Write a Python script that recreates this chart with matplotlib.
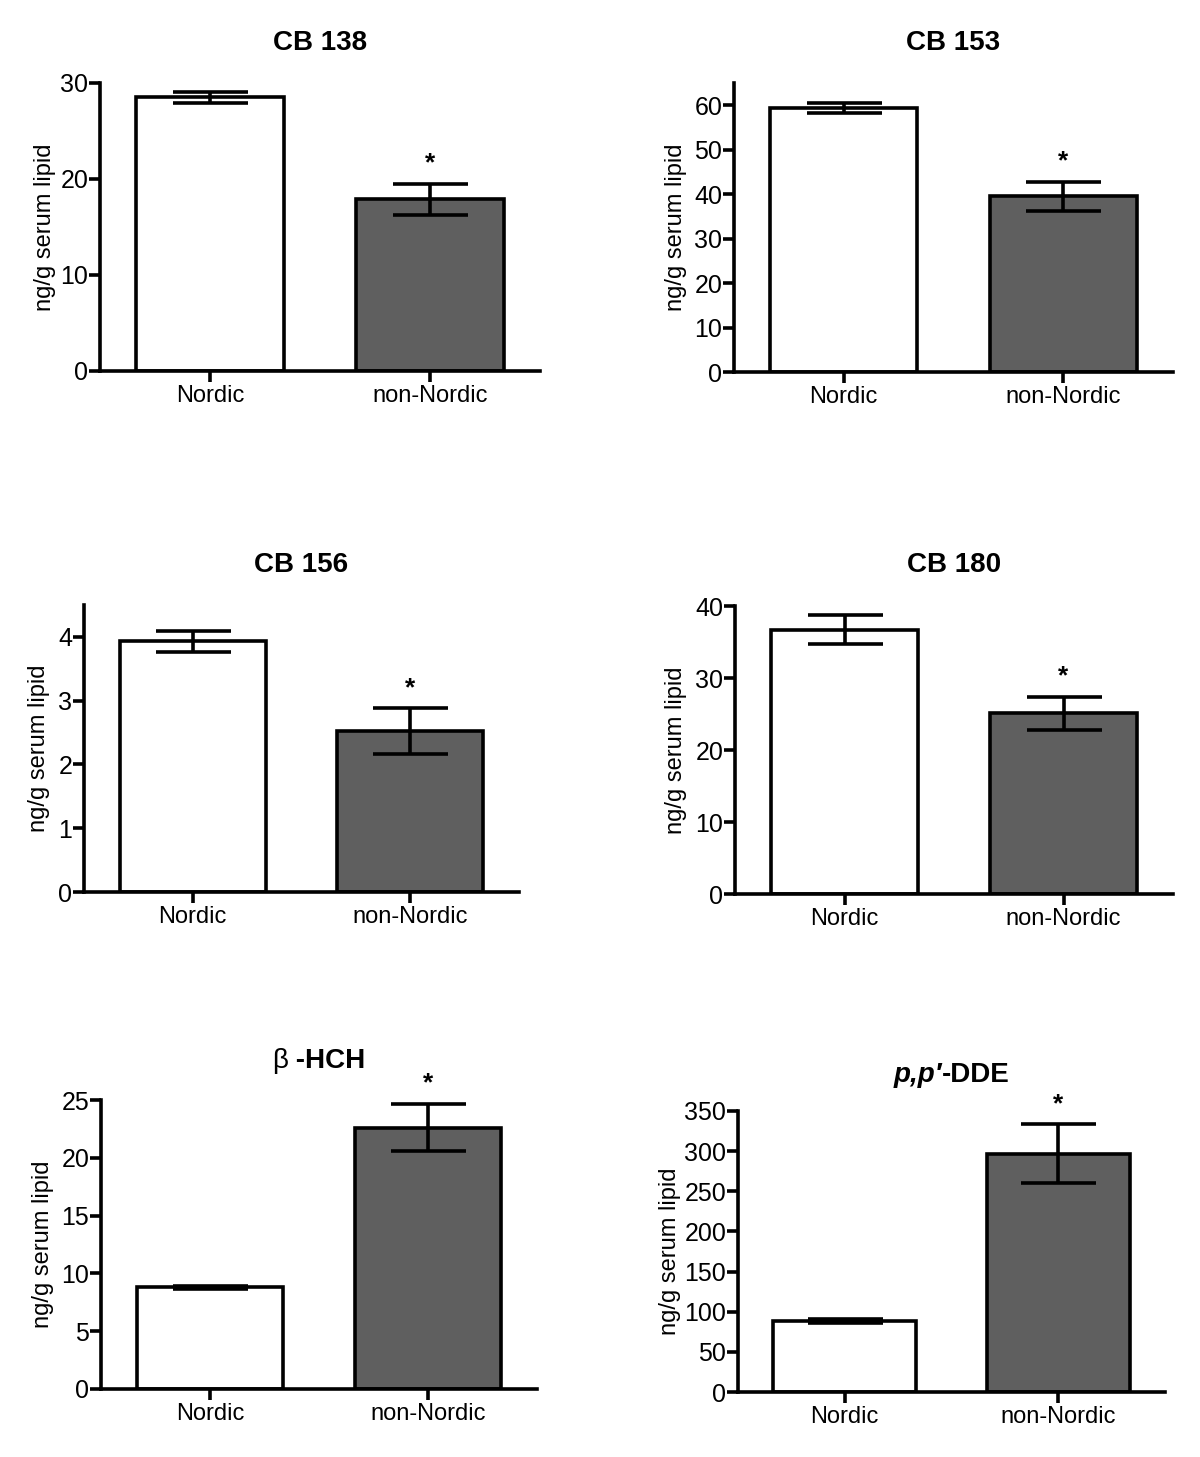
import matplotlib
matplotlib.use('Agg')
import matplotlib.pyplot as plt
from matplotlib.transforms import IdentityTransform

plt.rcParams['font.family'] = ['Liberation Sans', 'DejaVu Sans']

W, H = 1200, 1457
DPI = 100

# ---------------- data ----------------
categories = ['Nordic', 'non-Nordic']

cb138_mean = [28.5, 17.9]
cb138_sem = [0.6, 1.6]
cb153_mean = [59.3, 39.5]
cb153_sem = [1.1, 3.3]
cb156_mean = [3.93, 2.52]
cb156_sem = [0.16, 0.36]
cb180_mean = [36.7, 25.1]
cb180_sem = [2.0, 2.3]
hch_mean = [8.8, 22.6]
hch_sem = [0.12, 2.05]
dde_mean = [88.5, 297.0]
dde_sem = [2.5, 37.0]

y_max = [30, 65, 4.5, 40, 25, 350]
y_step = [10, 10, 1, 10, 5, 50]
significant = ['non-Nordic'] * 6

ylabel = 'ng/g serum lipid'

# title pieces (text, style)
title_parts = [
    [('CB 138', dict(weight='bold', size=20))],
    [('CB 153', dict(weight='bold', size=20))],
    [('CB 156', dict(weight='bold', size=20))],
    [('CB 180', dict(weight='bold', size=20))],
    [('β', dict(weight='normal', size=20)), (' -HCH', dict(weight='bold', size=20))],
    [('p,p′', dict(weight='bold', style='italic', size=20)), ('-DDE', dict(weight='bold', size=20))],
]

means = [cb138_mean, cb153_mean, cb156_mean, cb180_mean, hch_mean, dde_mean]
sems = [cb138_sem, cb153_sem, cb156_sem, cb180_sem, hch_sem, dde_sem]

# ---------------- layout (pixels from top-left) ----------------
# left, top, width, height, ylabel offset, title gap
rects = [
    (100, 83, 440, 288, 55, 43),
    (734, 83, 439, 289, 58, 42),
    (84, 605, 435, 287, 45, 42),
    (735, 606, 438, 288, 59, 43),
    (101, 1100, 436, 289, 58, 42),
    (738, 1111, 427, 281, 68, 39),
]

bar_colors = ['white', '#5f5f5f']
LW = 2.6

fig = plt.figure(figsize=(W / DPI, H / DPI), dpi=DPI)
renderer = fig.canvas.get_renderer()


def place_parts(parts, cx, baseline_from_top):
    texts = []
    for s, kw in parts:
        t = fig.text(0, 0, s, transform=IdentityTransform(), ha='left',
                     va='baseline', color='black', **kw)
        texts.append(t)
    widths = [t.get_window_extent(renderer).width for t in texts]
    x = cx - sum(widths) / 2
    y = H - baseline_from_top
    for t, w in zip(texts, widths):
        t.set_position((x, y))
        x += w


for i in range(6):
    left, top, w, h, ylo, tgap = rects[i]
    ax = fig.add_axes([left / W, 1 - (top + h) / H, w / W, h / H])
    x = list(range(len(categories)))
    ax.bar(x, means[i], width=0.67, color=bar_colors, edgecolor='black',
           linewidth=LW, zorder=2)
    ax.errorbar(x, means[i], yerr=sems[i], fmt='none', ecolor='black',
                elinewidth=LW, capsize=27, capthick=LW, zorder=3)
    ax.set_xlim(-0.5, 1.5)
    ax.set_ylim(0, y_max[i])
    ticks = []
    v = 0
    while v <= y_max[i] + 1e-9:
        ticks.append(v)
        v += y_step[i]
    ax.set_yticks(ticks)
    ax.set_yticklabels([('%g' % t) for t in ticks])
    ax.set_xticks(x)
    ax.set_xticklabels(categories)
    for s in ['top', 'right']:
        ax.spines[s].set_visible(False)
    for s in ['left', 'bottom']:
        ax.spines[s].set_linewidth(LW)
    ax.tick_params(axis='y', length=8, width=LW, pad=0.5, labelsize=18)
    ax.tick_params(axis='x', length=8, width=LW, pad=2, labelsize=17)
    ax.patch.set_visible(False)

    ax.text(-ylo / w, 0.5, ylabel, transform=ax.transAxes, rotation=90,
            ha='center', va='center', fontsize=17)

    # significance marker
    for j, c in enumerate(categories):
        if c == significant[i]:
            ytop = means[i][j] + sems[i][j] + 0.1 * y_max[i]
            ax.annotate('*', xy=(j, ytop), xytext=(0, -11),
                        textcoords='offset points', ha='center',
                        va='baseline', fontsize=19, weight='bold',
                        annotation_clip=False)

    place_parts(title_parts[i], left + w / 2, top - tgap + 9.5)

fig.savefig('out.png', dpi=DPI)
